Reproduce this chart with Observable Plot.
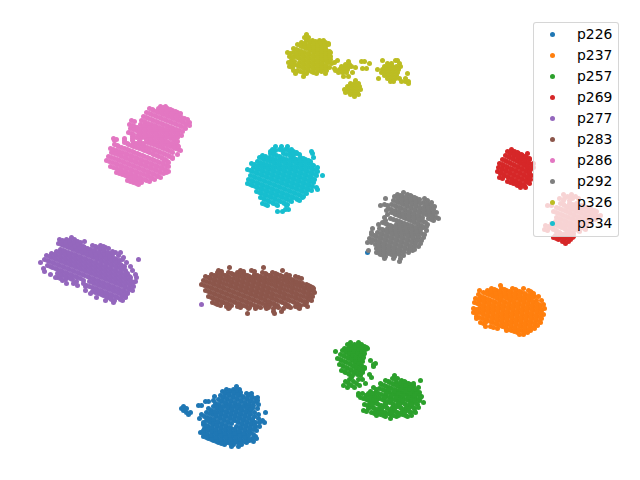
<!DOCTYPE html>
<html><head><meta charset="utf-8">
<script src="https://cdn.jsdelivr.net/npm/d3@7"></script>
<script src="https://cdn.jsdelivr.net/npm/@observablehq/plot@0.6"></script>
<style>
html,body{margin:0;padding:0;background:#fff}
#wrap{position:relative;width:640px;height:480px;overflow:hidden}
#legend{position:absolute;left:533px;top:22px;width:84px;height:213px;background:rgba(255,255,255,.8);border:1px solid rgba(204,204,204,.8);border-radius:3px;font:13.9px "DejaVu Sans",sans-serif;color:#000}
#legend div{position:absolute;left:0;height:21px;line-height:21px;width:84px}
#legend i{position:absolute;left:16px;top:8px;width:5px;height:5px;border-radius:50%}
#legend span{position:absolute;left:43px}
</style></head><body><div id="wrap"></div>
<script>
const speakers = ["p226","p237","p257","p269","p277","p283","p286","p292","p326","p334"];
const colors = ["#1f77b4","#ff7f0e","#2ca02c","#d62728","#9467bd","#8c564b","#e377c2","#7f7f7f","#bcbd22","#17becf"];

// each row: [y, [x values read along that row of the picture]]
const p226 = [[252,[367]],[386,[236]],[389,[226,233,239]],[391,[222,230,237]],[393,[225,234,246,251]],[395,[220,229,239,248]],[397,[223,233,243,252,257]],[399,[218,227,237,247]],[401,[205,208,221,231,241,250,256]],[403,[215,226,235,245]],[405,[198,201,219,229,239,249,253]],[406,[183,213,224,234,244]],[408,[181,186,217,228,237,247,252]],[410,[183,211,222,232,242,250]],[412,[186,190,206,217,227,236,246,254,265]],[414,[188,201,212,221,231,241,250]],[416,[204,216,226,235,245,254]],[418,[199,210,220,230,240,249]],[420,[206,214,224,234,243,252,262]],[422,[210,218,228,238,247,255,264]],[424,[203,213,222,242,251]],[426,[208,217,226,236,246,255]],[428,[204,212,221,231,241,250]],[430,[208,216,226,235,245]],[432,[200,204,212,221,231,240,250]],[434,[207,217,226,236,245]],[436,[203,212,222,232,241,255]],[438,[208,217,227,236,246,252]],[440,[213,222,232,241,249]],[442,[218,227,237,246]],[444,[224,233,241]],[446,[231,238]],
[390,[229,236]],[392,[225,233,240]],[394,[228,237,249]],[396,[223,232,242,251]],[398,[226,236,246,255]],[400,[221,230,240,250]],[402,[224,234,244,253]],[404,[218,229,238,248]],[406,[222,232,242,252]],[407,[216,227,237,247]],[409,[220,231,240,250]],[411,[214,225,235,245]],[413,[209,220,230,239,249]],[415,[215,224,234,244]],[417,[207,219,229,238,248]],[419,[213,223,233,243,252]],[421,[209,217,227,237,246]],[423,[213,221,231,241,250]],[425,[206,216,225,245,254]],[427,[211,220,229,239,249]],[429,[207,215,224,234,244,253]],[431,[211,219,229,238,248]],[433,[203,215,224,234,243]],[435,[210,220,229,239,248]],[437,[206,215,225,235,244]],[439,[211,220,230,239,249]],[441,[216,225,235,244]],[443,[221,230,240]],
[396,[214]],[400,[213,257]],[404,[258]],[408,[208,257]],[414,[258]],[418,[207,258]],[422,[203,259]],[426,[259]],[430,[203,256]],[434,[253]],[438,[256]],[441,[253]]];
const p237 = [[285,[500]],[288,[491,501,512,523]],[290,[487,496,506,516,528]],[292,[483,492,501,511,521,531]],[294,[488,497,506,516,525]],[296,[480,493,502,511,520,530,534]],[298,[475,485,497,507,516,525]],[300,[480,490,500,510,520,529,536]],[302,[474,485,495,505,514,524,533]],[304,[479,489,499,509,519,528,538]],[306,[484,494,504,514,523,533]],[308,[473,479,489,499,509,518,528,538]],[310,[484,494,503,513,523,533,541]],[312,[473,479,489,498,508,518,527,537]],[314,[483,493,503,513,522,532,543]],[316,[476,488,498,508,517,527,537]],[318,[482,493,503,512,522,532,541]],[320,[487,498,507,517,526,536]],[322,[480,492,502,512,521,531,540]],[324,[497,507,516,526,535]],[326,[490,502,511,521,530]],[328,[506,515,525,534]],[330,[511,521,530]],[332,[517,527]],[334,[519,523]],
[289,[494,504,515]],[291,[490,499,509,519,530]],[293,[486,495,504,514,524,533]],[295,[491,500,509,519,528]],[297,[483,496,505,514,523,532]],[299,[478,488,500,510,519,528]],[301,[483,493,503,513,523,532]],[303,[477,488,498,508,517,527,536]],[305,[482,492,502,512,522,531,540]],[307,[487,497,507,517,526,536]],[309,[476,482,492,502,512,521,531,541]],[311,[487,497,506,516,526,536]],[313,[476,482,492,501,511,521,530,540]],[315,[486,496,506,516,525,535]],[317,[479,491,501,511,520,530,540]],[319,[485,496,506,515,525,535]],[321,[490,501,510,520,529,539]],[323,[483,495,505,515,524,534]],[325,[500,510,519,529,537]],[327,[493,505,514,524,533]],[329,[509,518,528]],[331,[514,524]],
[290,[479]],[294,[478]],[296,[538]],[300,[541]],[304,[543]],[308,[544]],[318,[476]],[322,[485]],[326,[485]],[328,[497]],[330,[506]]];
const p257 = [[342,[350,358]],[344,[347,354,361]],[346,[351,358,364]],[348,[344,348,355,362,367]],[350,[342,350,358]],[351,[335]],[352,[346,354,361]],[354,[340,349,357,363]],[356,[344,352,360]],[358,[337,348,356,362]],[360,[341,352,359,370]],[362,[346,355]],[363,[375]],[364,[339,350,358,373]],[366,[343,353,361,373]],[368,[347,356,364]],[370,[341,351,359]],[372,[345,354,362]],[374,[349,357,369]],[377,[351,371]],[379,[349,358,362]],[381,[345,353]],[383,[348,356,365]],[385,[343,351,359]],[387,[347,354]],[393,[358,362]],[395,[358,366]],[375,[394]],[378,[392,397]],[380,[385,401,420]],[382,[389,396,405]],[384,[381,393,402,410]],[386,[386,398,407,413]],[388,[379,391,403,411]],[390,[384,396,408,416]],[392,[375,389,401,413,419]],[394,[369,381,394,406,416]],[396,[375,386,399,411,421]],[398,[363,379,391,403,415]],[400,[368,384,396,408,419]],[402,[373,389,401,413,423]],[404,[364,378,393,405,417]],[406,[369,383,397,410]],[408,[374,387,401,414]],[410,[363,379,392,406]],[412,[371,385,397,410]],[414,[380,390,402]],[416,[385,396,407]],[418,[390]],
[345,[350,357]],[347,[354,361,366]],[349,[347,351,358,365]],[351,[345,353,361]],[353,[349,357,364]],[355,[343,352,360]],[357,[347,355,363]],[359,[340,351,359]],[361,[344,355,362]],[363,[349,358]],[365,[342,353,361]],[367,[346,356,364]],[369,[350,359]],[371,[344,354,362]],[373,[348,357]],[375,[352,360]],[379,[395]],[381,[388,404]],[383,[392,399,408]],[385,[384,396,405,413]],[387,[389,401,410]],[389,[382,394,406,414]],[391,[387,399,411]],[393,[378,392,404,416]],[395,[372,384,397,409,419]],[397,[378,389,402,414]],[399,[366,382,394,406,418]],[401,[371,387,399,411]],[403,[376,392,404,416]],[405,[367,381,396,408]],[407,[372,386,400,413]],[409,[377,390,404]],[411,[366,382,395,409]],[413,[374,388,400]],[415,[383,393,405]],
[383,[380,413]],[387,[373,418]],[389,[376,388,400,409]],[391,[370,394,405]],[393,[368,372,386,398,410]],[395,[366,391,403,414]],[397,[360,370,384,396,408,420]],[399,[373,400,412]],[400,[376,390,402,414]],[403,[370,385,398,410]],[404,[372,385,399,411]],[407,[380,392,406,418]],[408,[368,381,394,408]],[411,[375,390,402,414]],[412,[378,391,404,415]],[415,[376,398,411]]];
const p269 = [[149,[511]],[151,[507,514]],[153,[510,518,527]],[155,[505,514,522]],[157,[509,518,526]],[159,[502,513,521,529]],[161,[506,517,525]],[163,[499,510,520,528,533]],[165,[503,514,524]],[167,[498,507,518,527,533]],[169,[502,512,522,530]],[171,[497,506,516,526]],[173,[500,510,520,529]],[175,[504,514,524,531]],[177,[499,508,518,527]],[179,[512,522,530]],[181,[507,516,526]],[183,[513,520,529]],[185,[517,524]],[187,[520,525]],[194,[563,571]],[196,[567,575]],[198,[559,564,572,578]],[200,[563,569]],[203,[560,569,576]],[205,[547,551,564,572,581]],[207,[556,567,577,586]],[209,[561,572,582,591]],[211,[553,566,576,587,596]],[213,[558,570,581,591]],[215,[563,574,585,596,600]],[217,[556,568,579,590]],[219,[561,573,584,595]],[221,[555,566,577,588]],[223,[551,560,571,582]],[225,[545,556,566,576,586]],[227,[549,561,571,581]],[229,[544,553,565,575,585]],[231,[556,569,579]],[233,[560,566,573]],[235,[555,570]],[237,[553,560,566,572]],[239,[558,564,570]],[241,[562,568]],[243,[565]],
[152,[510,517]],[154,[513,521]],[156,[508,517,525]],[158,[512,521,529]],[160,[505,516,524]],[162,[509,520,528]],[164,[502,513,523,531]],[166,[506,517,527]],[168,[501,510,521,530]],[170,[505,515,525]],[172,[500,509,519,529]],[174,[503,513,523]],[176,[507,517,527]],[178,[502,511,521,529]],[180,[515,525]],[182,[510,519,528]],[184,[516,523]],[197,[570]],[204,[563,572]],[206,[567,575,584]],[208,[559,570,580,589]],[210,[564,575,585,594]],[212,[556,569,579,590]],[214,[561,573,584,594]],[216,[566,577,588,598]],[218,[559,571,582,593]],[220,[564,576,587]],[222,[558,569,580,591]],[224,[554,563,574,585]],[226,[548,559,569,579]],[228,[552,564,574,584]],[230,[547,556,568,578]],[232,[559,572]],[234,[563,569]],[236,[558,573]],[238,[556,563,569]]];
const p277 = [[304,[201]],[237,[71]],[239,[59,66,74]],[241,[62,70,77,84]],[243,[58,67,74]],[245,[63,71,80,92,100]],[247,[68,76,84,96,105]],[249,[60,73,81,90,100]],[251,[56,65,78,87,95,104,112]],[253,[51,61,71,83,92,100,109]],[255,[46,56,66,76,88,97,106]],[257,[51,61,71,81,93,102,111,123]],[259,[44,56,66,76,86,97,107,116,138]],[261,[49,61,71,81,91,102,112]],[263,[54,66,76,86,96,107,117]],[265,[47,59,71,81,91,101,112,121]],[267,[52,64,76,86,96,106,117]],[269,[57,69,81,91,101,111,122]],[271,[44,62,74,86,96,106,116]],[273,[57,67,79,91,101,111,121,127]],[275,[62,72,84,96,106,116,126]],[277,[57,67,77,89,101,111,121,130]],[279,[65,72,94,106,116,126]],[281,[76,89,99,111,121,131,135]],[283,[73,94,104,116,126]],[285,[77,86,99,109,121,130]],[287,[92,104,114,125]],[289,[97,109,119,130]],[291,[92,102,114,124]],[293,[98,107,119,127]],[295,[103,112,122]],[297,[107,117,125]],[299,[111,120]],[302,[113]],
[240,[62,69]],[242,[65,73,80]],[244,[61,70,77]],[246,[66,74,83,95,103]],[248,[71,79,87,99,108]],[250,[63,76,84,93,103]],[252,[59,68,81,90,98,107,115]],[254,[54,64,74,86,95,103,112]],[256,[49,59,69,79,91,100,109]],[258,[54,64,74,84,96,105,114]],[260,[47,59,69,79,89,100,110,119]],[262,[52,64,74,84,94,105,115]],[264,[57,69,79,89,99,110,120]],[266,[50,62,74,84,94,104,115,124]],[268,[55,67,79,89,99,109,120]],[270,[60,72,84,94,104,114,125]],[272,[65,77,89,99,109,119]],[274,[60,70,82,94,104,114,124]],[276,[65,75,87,99,109,119,129]],[278,[60,70,80,92,104,114,124]],[280,[97,109,119,129]],[282,[92,102,114,124,133]],[284,[97,107,119,129]],[286,[89,102,112,124,133]],[288,[95,107,117,128]],[290,[100,112,122,132]],[292,[95,105,117,127]],[294,[101,110,122]],[296,[106,115,125]],[298,[110,120]],[300,[114]],
[252,[120]],[255,[118]],[259,[122]],[262,[40,126]],[266,[130]],[268,[43]],[270,[132]],[274,[50,135]],[277,[55,136]],[280,[62,83]],[283,[66,83]],[286,[85]],[290,[85]],[293,[90]],[297,[96]],[300,[105,122]]];
const p283 = [[267,[229,263]],[270,[218,240,251,282]],[272,[217,228,237,262,272]],[274,[211,222,233,244,254,266,277,286]],[276,[205,216,227,239,249,260,271,282,295]],[278,[210,221,233,244,255,265,276,288,301]],[280,[203,215,227,238,249,260,271,283,293]],[282,[209,220,232,243,254,265,277,288,299]],[284,[201,214,226,237,248,259,271,282,294,306]],[286,[207,219,231,242,253,264,276,288,300,310]],[288,[212,224,236,247,258,269,281,293,305,313]],[290,[205,217,229,241,252,263,275,287,299,310]],[292,[210,222,234,246,257,268,280,292,304,314]],[294,[215,227,239,251,262,273,285,297,309]],[296,[208,220,232,244,256,267,279,291,303,312]],[298,[213,225,237,249,261,272,284,296,308]],[300,[218,230,242,254,265,277,289,301,311]],[302,[212,223,235,247,259,270,282,294,306]],[304,[217,228,240,251,266,274,285,297,304]],[306,[226,237,246,257,265,275,287,295,307]],[308,[228,248,255,266,273,283,299]],[311,[273,281]],[313,[247,274]],
[271,[221,243,254]],[273,[219,231,240,265,275]],[275,[214,225,236,247,257,269,280,289]],[277,[208,219,229,242,252,263,274,285,298]],[279,[213,224,236,247,258,268,279,291]],[281,[206,218,230,241,252,263,274,286,296]],[283,[212,223,235,246,257,268,280,291,302]],[285,[204,217,229,240,251,262,274,285,297,308]],[287,[210,222,234,245,256,267,279,291,303,312]],[289,[215,227,239,250,261,272,284,296,308]],[291,[208,220,232,244,255,266,278,290,302,313]],[293,[213,225,237,249,260,271,283,295,307]],[295,[218,230,242,254,265,276,288,300,311]],[297,[211,223,235,247,259,270,282,294,306]],[299,[216,228,240,252,264,275,287,299,309]],[301,[221,233,245,257,268,280,292,304]],[303,[215,226,238,250,262,273,285,297]],[305,[220,231,243,254,269,277,288,300]],[307,[229,240,249,260,268,278,290,298]]];
const p286 = [[106,[160,165]],[108,[149,158,167]],[110,[153,163,172]],[112,[146,158,168,177]],[114,[151,163,173]],[116,[143,156,168,178]],[118,[148,161,173,184]],[120,[131,141,153,166,178]],[122,[145,158,171,183,189]],[124,[129,140,151,163,176,186]],[126,[134,146,156,168,181]],[128,[130,141,151,162,173,185]],[130,[136,146,157,168,179]],[132,[128,141,152,163,174]],[134,[146,157,168,178]],[136,[141,152,163,174]],[138,[113,124,147,158,170]],[140,[114,152,163,174]],[142,[124,133,147,158,168]],[144,[114,128,139,153,164,174]],[146,[118,133,144,158,170]],[148,[110,124,139,150,163,175]],[150,[116,129,144,155,168]],[152,[111,122,134,149,160,172]],[154,[117,127,139,153,165]],[156,[108,121,132,144,158,169]],[158,[114,126,137,149,162]],[160,[106,119,131,142,154,164]],[162,[112,124,136,147,159]],[164,[117,129,141,152,163]],[166,[110,122,134,146,157]],[168,[116,127,139,151,162]],[170,[121,132,144,156,165]],[172,[116,126,137,149,160]],[174,[122,131,143,154]],[176,[127,136,148,157]],[178,[131,141,151]],[180,[127,136,146]],[182,[133,141]],[184,[138]],
[107,[163]],[109,[152,161,170]],[111,[156,166,175]],[113,[149,161,171,180]],[115,[154,166,176]],[117,[146,159,171,181]],[119,[151,164,176,187]],[121,[134,144,156,169,181]],[123,[148,161,174,186]],[125,[132,143,154,166,179,189]],[127,[137,149,159,171,184]],[129,[133,144,154,165,176]],[131,[139,149,160,171,182]],[133,[131,144,155,166,177]],[135,[149,160,171,181]],[137,[144,155,166,177]],[139,[116,150,161,173]],[141,[155,166,177]],[143,[127,136,150,161,171]],[145,[117,131,142,156,167,177]],[147,[121,136,147,161,173]],[149,[113,127,142,153,166,178]],[151,[119,132,147,158,171]],[153,[114,125,137,152,163]],[155,[120,130,142,156,168]],[157,[111,124,135,147,161,172]],[159,[117,129,140,152,165]],[161,[109,122,134,145,157,167]],[163,[115,127,139,150,162]],[165,[120,132,144,155,166]],[167,[113,125,137,149,160]],[169,[119,130,142,154,165]],[171,[124,135,147,159,168]],[173,[119,129,140,152,163]],[175,[125,134,146,157]],[177,[130,139,151,160]],[179,[134,144,154]],[181,[130,139,149]],[183,[136]],
[134,[133,138]],[136,[132]],[137,[136]],[138,[132,140]],[140,[124,132,139,146]],[142,[140]],[143,[143]],[146,[178]],[150,[180]],[154,[177]],[158,[172]],[162,[168]],[166,[168]],[172,[166]]];
const p292 = [[192,[403]],[194,[397,407]],[196,[394,402,411]],[198,[385,398,407,416,424]],[200,[393,403,412,427]],[202,[398,408,417,423,431]],[204,[384,391,403,412,428]],[206,[396,407,416,424,434]],[208,[388,401,411,420,430]],[210,[395,405,415,425]],[212,[391,399,410,420,430,436]],[214,[395,405,414,426]],[216,[400,410,419,433]],[218,[390,405,415,428,438]],[220,[396,410,420,433]],[222,[382,401,414]],[224,[387,396,407,418,427]],[226,[392,402,412,420]],[228,[379,387,397,408,417]],[230,[383,392,403,413,426]],[232,[377,388,398,408,418]],[234,[371,382,393,404,414]],[236,[376,387,398,409,418]],[238,[369,381,392,403,413]],[240,[375,386,397,408]],[242,[367,371,380,391,402,413]],[244,[375,385,396,407]],[246,[380,390,401,410]],[248,[376,385,395,405]],[250,[380,390,400,412]],[252,[376,385,395,403]],[254,[380,391,399]],[256,[385,394]],[258,[384,393]],[261,[399]],
[195,[400,410]],[197,[397,405,414]],[199,[401,410,419]],[201,[396,406,415]],[203,[401,411,420,426]],[205,[387,394,406,415,431]],[207,[399,410,419,427]],[209,[391,404,414,423,433]],[211,[398,408,418,428]],[213,[394,402,413,423,433]],[215,[398,408,417,429]],[217,[403,413,422,436]],[219,[393,408,418,431]],[221,[399,413,423]],[223,[385,404,417]],[225,[390,399,410,421]],[227,[395,405,415,423]],[229,[382,390,400,411,420]],[231,[386,395,406,416]],[233,[380,391,401,411,421]],[235,[374,385,396,407,417]],[237,[379,390,401,412]],[239,[372,384,395,406,416]],[241,[378,389,400,411]],[243,[383,394,405]],[245,[378,388,399,410]],[247,[383,393,404]],[249,[379,388,398,408]],[251,[383,393,403]],[253,[379,388,398]],[255,[383,394]],
[205,[380]],[210,[386]],[214,[387]],[217,[384]],[220,[385]],[222,[425]],[224,[378]],[226,[426]],[228,[372]],[232,[371]],[234,[424]],[237,[418,423]],[240,[417,421]],[243,[415,420]],[246,[414,418]],[249,[410,414]],[250,[368]],[252,[408]],[255,[403]],[258,[400]]];
const p326 = [[34,[306]],[37,[304,308]],[40,[306,312,319,323]],[42,[301,310,317,325]],[44,[297,305,314,321,328]],[46,[301,310,318,325]],[48,[293,306,314,322]],[50,[298,310,318,326]],[52,[287,293,304,314,322,330]],[54,[299,309,318,326]],[56,[289,294,304,314,322,330]],[58,[299,309,318,327]],[60,[291,304,314,323,337,382,395,397]],[61,[348,361,364]],[62,[288,299,309,318,328,334]],[63,[369,387,391,399]],[64,[294,304,314,322,345,349]],[66,[289,299,309,318,326,341,345,349,351,384,388,392,396,400]],[67,[355]],[68,[304,314,322,334,362,366]],[69,[339,343,347,377,382,386,390,394,398]],[70,[293,297,308,318,326,335]],[72,[303,313,338,342,346,352,381,385,389,393,397]],[73,[295,325,407]],[75,[384,388,392,396]],[76,[303,343,348]],[78,[378,387,391,395,399,405]],[80,[355]],[81,[390,393,401,405,408]],[83,[350,354,358,408]],[86,[347,351,355,359]],[89,[344,348,352,356,360]],[92,[345,349,353,357]],[94,[350,354,358]],[96,[354]],
[41,[309,315,322]],[43,[304,313,320,328]],[45,[300,308,317,324]],[47,[304,313,321]],[49,[296,309,317,325]],[51,[301,313,321,329]],[53,[290,296,307,317,325]],[55,[302,312,321,329]],[57,[292,297,307,317,325]],[59,[302,312,321,330]],[61,[294,307,317,326]],[63,[291,302,312,321,331]],[65,[297,307,317,325]],[67,[292,302,312,321,329]],[69,[307,317,325]],[71,[296,300,311,321]],[73,[306,316]]];
const p334 = [[146,[275,281,287]],[149,[272,279,285,291]],[151,[270,293,311]],[153,[270,283,290,296,312]],[155,[262,276]],[157,[259,269,280,291,300,313]],[159,[264,275,286,296,305]],[161,[257,270,281,292,302,310]],[163,[251,263,275,286,297,308]],[165,[258,269,280,291,302,313]],[167,[253,264,275,286,297,308,317]],[169,[247,258,269,280,291,302,313]],[171,[252,263,274,285,296,307,317]],[173,[257,268,279,290,301,312]],[175,[250,262,273,284,295,306,316,322]],[177,[255,267,278,289,300,311]],[179,[248,260,272,283,294,305,314]],[181,[253,265,277,288,299,310]],[183,[247,258,270,282,293,304]],[185,[252,263,275,287,298,309]],[187,[257,268,280,292,303,316]],[189,[262,273,285,297,308,317]],[191,[256,267,278,290,302]],[193,[261,272,283,295,306]],[195,[266,277,288,300]],[197,[260,271,282,293,302]],[199,[264,275,287,297]],[201,[269,280,291]],[203,[262,273,284]],[205,[267,277,286]],[209,[285,288]],[211,[277,282]],
[150,[275,282,288]],[152,[273,296]],[154,[273,286,293,299]],[156,[265,279,290]],[158,[262,272,283,294,303]],[160,[267,278,289,299,308]],[162,[260,273,284,295,305]],[164,[254,266,278,289,300,311]],[166,[261,272,283,294,305]],[168,[256,267,278,289,300,311]],[170,[250,261,272,283,294,305,316]],[172,[255,266,277,288,299,310]],[174,[260,271,282,293,304,315]],[176,[253,265,276,287,298,309]],[178,[258,270,281,292,303]],[180,[251,263,275,286,297,308]],[182,[256,268,280,291,302,313]],[184,[250,261,273,285,296,307]],[186,[255,266,278,290,301,312]],[188,[260,271,283,295,306]],[190,[265,276,288,300,311]],[192,[259,270,281,293,305]],[194,[264,275,286,298]],[196,[269,280,291,303]],[198,[263,274,285,296]],[200,[267,278,290,299]],[202,[272,283]],[204,[265,276,287]]];

const rowsBySpeaker = [p226,p237,p257,p269,p277,p283,p286,p292,p326,p334];
const points = rowsBySpeaker.flatMap((rows,i)=>rows.flatMap(([y,xs])=>xs.map(x=>({x,y,speaker:speakers[i]}))));

const chart = Plot.plot({
  width:640,height:480,margin:0,
  style:{background:"#fff"},
  x:{domain:[0,640],range:[0,640],axis:null},
  y:{domain:[0,480],range:[0,480],axis:null},
  color:{domain:speakers,range:colors},
  marks:[Plot.dot(points,{x:"x",y:"y",r:2.5,fill:"speaker",stroke:"none"})]
});
const wrap=document.getElementById("wrap");
wrap.appendChild(chart);
const lg=document.createElement("div");lg.id="legend";
speakers.forEach((s,i)=>{
  const row=document.createElement("div");row.style.top=(1+i*21)+"px";
  row.innerHTML=`<i style="background:${colors[i]}"></i><span>${s}</span>`;
  lg.appendChild(row);
});
wrap.appendChild(lg);
</script></body></html>
